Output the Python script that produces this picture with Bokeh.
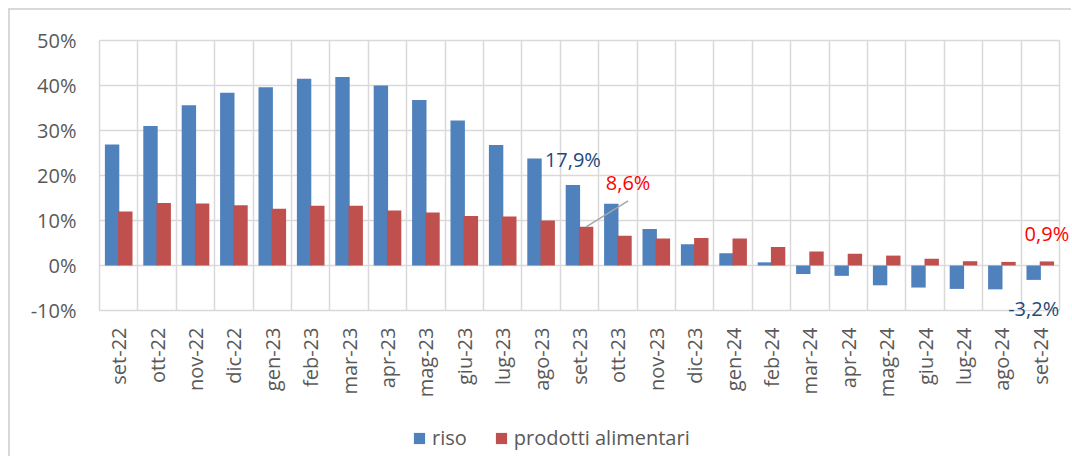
import numpy as np
from bokeh.plotting import figure
from bokeh.models import Range1d, FixedTicker, PrintfTickFormatter, Legend, LegendItem, Label, ColumnDataSource
from bokeh.embed import file_html
from bokeh.resources import INLINE

months = ["set-22", "ott-22", "nov-22", "dic-22", "gen-23", "feb-23", "mar-23", "apr-23",
          "mag-23", "giu-23", "lug-23", "ago-23", "set-23", "ott-23", "nov-23", "dic-23",
          "gen-24", "feb-24", "mar-24", "apr-24", "mag-24", "giu-24", "lug-24", "ago-24", "set-24"]
riso = [26.9, 31.0, 35.6, 38.4, 39.6, 41.5, 41.9, 40.0, 36.8, 32.2, 26.8, 23.8, 17.9,
        13.7, 8.1, 4.7, 2.7, 0.7, -1.9, -2.3, -4.4, -4.9, -5.2, -5.3, -3.2]
prodotti = [12.0, 13.9, 13.8, 13.4, 12.6, 13.3, 13.3, 12.2, 11.8, 11.0, 10.9, 10.0, 8.6,
            6.6, 6.0, 6.1, 6.0, 4.1, 3.1, 2.6, 2.2, 1.5, 0.95, 0.8, 0.9]
y_ticks = [-10, 0, 10, 20, 30, 40, 50]

BLUE = "#4F81BD"
RED = "#C0504D"
NAVY = "#1F497D"
GRID = "#D9D9D9"
TXT = "#595959"
FONT = "Open Sans"

n = len(months)
centers = np.arange(n) + 0.5
off = 0.172
bw = 0.375

# pixel scale of the plot box: 38.4 px per month, 4.5 px per percentage point
PX_X, PX_Y = 38.4, 4.5
FRAME_H = 418

src = ColumnDataSource(dict(xb=centers - off, xr=centers + off, riso=riso, prod=prodotti))

y_top = y_ticks[-1] + 2 / PX_Y
# the visible box is drawn by bounded grid lines; the frame itself is larger so that
# edge data labels, the month axis and the legend are not clipped
p = figure(frame_width=974, frame_height=FRAME_H,
           x_range=Range1d(-2 / PX_X, n + 12 / PX_X),
           y_range=Range1d(y_top - FRAME_H / PX_Y, y_top),
           output_backend="svg", toolbar_location=None,
           min_border_left=87, min_border_right=0, min_border_top=28, min_border_bottom=0,
           styles={"margin-left": "8px", "margin-top": "8px",
                   "border-left": "2px solid #D9D9D9", "border-top": "2px solid #D9D9D9"})
p.outline_line_color = None

# grid (category boundaries and 10% steps), limited to the chart box
xg_ticks = list(range(n + 1))
xgrid, ygrid = p.xgrid[0], p.ygrid[0]
if "cross_bounds" in xgrid.properties():
    xgrid.ticker = FixedTicker(ticks=xg_ticks)
    xgrid.cross_bounds = (y_ticks[0], y_ticks[-1])
    ygrid.ticker = FixedTicker(ticks=y_ticks)
    ygrid.cross_bounds = (0, n)
    for g in (xgrid, ygrid):
        g.grid_line_color = GRID
        g.grid_line_width = 1.5
else:
    xgrid.visible = False
    ygrid.visible = False
    p.segment(x0=xg_ticks, x1=xg_ticks, y0=[y_ticks[0]] * len(xg_ticks), y1=[y_ticks[-1]] * len(xg_ticks),
              line_color=GRID, line_width=1.5)
    p.segment(x0=[0] * len(y_ticks), x1=[n] * len(y_ticks), y0=y_ticks, y1=y_ticks,
              line_color=GRID, line_width=1.5)

rb = p.vbar(x="xb", top="riso", bottom=0, width=bw, source=src, fill_color=BLUE, line_color=None)
rr = p.vbar(x="xr", top="prod", bottom=0, width=bw, source=src, fill_color=RED, line_color=None)

# axes
p.xaxis.fixed_location = y_ticks[0]
p.xaxis.ticker = FixedTicker(ticks=list(centers))
p.xaxis.major_label_overrides = {float(c): m for c, m in zip(centers, months)}
p.xaxis.major_label_orientation = np.pi / 2
p.xaxis.axis_line_color = None
p.xaxis.major_tick_line_color = None
p.xaxis.minor_tick_line_color = None
p.xaxis.major_tick_out = 0
p.xaxis.major_label_standoff = 17
p.xaxis.major_label_text_font = FONT
p.xaxis.major_label_text_font_size = "20px"
p.xaxis.major_label_text_color = TXT

p.yaxis.ticker = FixedTicker(ticks=y_ticks)
p.yaxis.formatter = PrintfTickFormatter(format="%d%%")
p.yaxis.axis_line_color = None
p.yaxis.major_tick_line_color = None
p.yaxis.minor_tick_line_color = None
p.yaxis.major_tick_out = 0
p.yaxis.major_label_standoff = 21
p.yaxis.major_label_text_font = FONT
p.yaxis.major_label_text_font_size = "20px"
p.yaxis.major_label_text_color = TXT

def fmt(v):
    return f"{v:.1f}%".replace(".", ",")

# data labels
i = months.index("set-23")
p.add_layout(Label(x=centers[i] - off, y=riso[i], text=fmt(riso[i]), text_align="center",
                   text_baseline="bottom", y_offset=12, text_font=FONT, text_font_size="20px",
                   text_color=NAVY))
lx0, ly0 = centers[i] + off, prodotti[i]
lx1, ly1 = lx0 + 42 / PX_X, ly0 + 26 / PX_Y
p.segment(x0=[lx0], y0=[ly0], x1=[lx1], y1=[ly1], line_color="#A6A6A6", line_width=1.5)
p.add_layout(Label(x=lx1, y=ly1, text=fmt(prodotti[i]), text_align="center",
                   text_baseline="bottom", y_offset=5, text_font=FONT, text_font_size="20px",
                   text_color="#FF0000"))
j = n - 1
p.add_layout(Label(x=centers[j] + off, y=prodotti[j], text=fmt(prodotti[j]), text_align="center",
                   text_baseline="bottom", y_offset=14, text_font=FONT, text_font_size="20px",
                   text_color="#FF0000"))
p.add_layout(Label(x=centers[j] - off, y=riso[j], text=fmt(riso[j]), text_align="center",
                   text_baseline="top", y_offset=-15, text_font=FONT, text_font_size="20px",
                   text_color=NAVY))

legend = Legend(items=[LegendItem(label="riso", renderers=[rb]),
                       LegendItem(label="prodotti alimentari", renderers=[rr])],
                orientation="horizontal", location=(315, 5))
legend.glyph_width = 14
legend.glyph_height = 14
legend.label_standoff = 6
legend.spacing = 27
legend.label_text_font = FONT
legend.label_text_font_size = "20px"
legend.label_text_color = TXT
legend.border_line_color = None
legend.background_fill_alpha = 0
legend.margin = 0
legend.padding = 0
p.add_layout(legend, "center")

open("out.html", "w").write(file_html(p, INLINE))
